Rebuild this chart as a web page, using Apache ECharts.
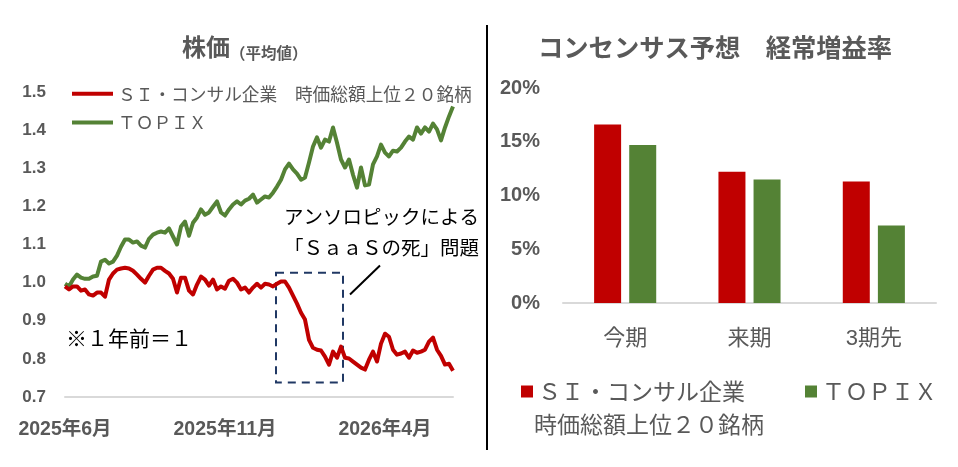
<!DOCTYPE html>
<html>
<head>
<meta charset="utf-8">
<title>株価とコンセンサス予想</title>
<script src="https://cdn.jsdelivr.net/npm/echarts@6/dist/echarts.min.js"></script>
<style>
  html, body { margin: 0; padding: 0; background: #fff; }
  #chartDiv { width: 958px; height: 467px; }
</style>
</head>
<body>
<div id="chartDiv"></div>
<script>
// 左：株価（平均値）　1年前＝1
var siName = 'ＳＩ・コンサル企業　時価総額上位２０銘柄';
var topixName = 'ＴＯＰＩＸ';
var xTickLabels = ['2025年6月', '2025年11月', '2026年4月'];
var siValues = [
  0.990, 0.982, 0.990, 0.990, 0.979, 0.982, 0.969, 0.966, 0.974, 0.974,
  0.963, 1.008, 1.024, 1.034, 1.037, 1.039, 1.037, 1.031, 1.021, 1.010,
  1.000, 1.018, 1.034, 1.039, 1.039, 1.031, 1.024, 1.010, 0.974, 1.013,
  1.013, 0.979, 0.969, 0.995, 1.016, 1.008, 0.992, 1.008, 0.982, 0.990,
  0.984, 1.005, 1.010, 1.000, 0.982, 0.987, 0.974, 0.987, 0.997, 0.987,
  0.997, 0.995, 0.990, 0.997, 1.003, 1.003, 0.987, 0.966, 0.945, 0.921,
  0.903, 0.850, 0.829, 0.824, 0.822, 0.806, 0.785, 0.819, 0.803, 0.832,
  0.803, 0.801, 0.793, 0.785, 0.777, 0.772, 0.798, 0.819, 0.793, 0.840,
  0.866, 0.858, 0.824, 0.811, 0.814, 0.819, 0.803, 0.822, 0.816, 0.819,
  0.824, 0.845, 0.856, 0.824, 0.808, 0.785, 0.787, 0.769
];
var topixValues = [
  0.997, 0.990, 1.008, 1.021, 1.013, 1.010, 1.010, 1.016, 1.018, 1.055,
  1.060, 1.050, 1.055, 1.071, 1.094, 1.113, 1.113, 1.105, 1.108, 1.097,
  1.092, 1.115, 1.126, 1.131, 1.134, 1.131, 1.142, 1.121, 1.100, 1.147,
  1.160, 1.123, 1.157, 1.171, 1.192, 1.178, 1.184, 1.199, 1.213, 1.184,
  1.176, 1.192, 1.205, 1.213, 1.205, 1.215, 1.220, 1.231, 1.210, 1.218,
  1.226, 1.223, 1.236, 1.252, 1.270, 1.297, 1.312, 1.297, 1.286, 1.270,
  1.276, 1.315, 1.357, 1.381, 1.354, 1.375, 1.370, 1.407, 1.367, 1.323,
  1.302, 1.323, 1.283, 1.249, 1.302, 1.255, 1.257, 1.310, 1.331, 1.362,
  1.341, 1.331, 1.346, 1.344, 1.354, 1.370, 1.383, 1.375, 1.407, 1.391,
  1.407, 1.396, 1.417, 1.402, 1.373, 1.407, 1.436, 1.462
];

// 右：コンセンサス予想　経常増益率（％）
var periods = ['今期', '来期', '3期先'];
var siGrowth = [16.6, 12.2, 11.3];
var topixGrowth = [14.7, 11.5, 7.2];

var red = '#C00000';
var green = '#548235';
var gray = '#595959';
var jp = "'Noto Sans CJK JP'";
var num = "'Liberation Sans', 'Noto Sans CJK JP'";

var chartDiv = echarts.init(document.getElementById('chartDiv'));

function pairs(arr) {
  return arr.map(function (v, i) { return [i, v]; });
}

var option = {
  animation: false,
  title: [
    {
      text: '{a|株価}{b|（平均値）}',
      left: 182, top: 33, padding: 0,
      textStyle: {
        rich: {
          a: { fontSize: 24, fontWeight: 'bold', color: gray, fontFamily: jp, lineHeight: 28 },
          b: { fontSize: 15.5, fontWeight: 'bold', color: gray, fontFamily: jp, lineHeight: 28, verticalAlign: 'bottom' }
        }
      }
    },
    {
      text: 'コンセンサス予想　経常増益率',
      left: 538, top: 33, padding: 0,
      textStyle: { fontSize: 25.3, fontWeight: 'bold', color: gray, fontFamily: jp, lineHeight: 28 }
    }
  ],
  legend: [
    {
      orient: 'vertical', left: 67, top: 80, itemGap: 11,
      itemWidth: 41, itemHeight: 4, icon: 'rect',
      data: [siName, topixName],
      textStyle: { fontSize: 17.7, color: gray, fontFamily: jp },
      selectedMode: false
    },
    {
      left: 516, top: 375, itemWidth: 12, itemHeight: 12, icon: 'rect',
      data: [siName],
      formatter: function (name) { return name.split('　')[0]; },
      textStyle: { fontSize: 23, color: gray, fontFamily: jp },
      selectedMode: false
    },
    {
      left: 800, top: 375, itemWidth: 12, itemHeight: 12, icon: 'rect',
      data: [topixName],
      textStyle: { fontSize: 23, color: gray, fontFamily: jp },
      selectedMode: false
    }
  ],
  grid: [
    { left: 65, right: 505, top: 92, bottom: 70 },
    { left: 563, right: 22, top: 88, bottom: 164 }
  ],
  xAxis: [
    {
      type: 'value', gridIndex: 0, min: 0, max: siValues.length - 1, interval: 40,
      axisLine: { show: true, lineStyle: { color: '#D9D9D9', width: 2 } },
      axisTick: { show: false },
      splitLine: { show: false },
      axisLabel: {
        margin: 23, fontSize: 19.5, fontWeight: 'bold', color: gray, fontFamily: num,
        showMaxLabel: false,
        formatter: function (v) {
          return v % 40 === 0 ? (xTickLabels[v / 40] || '') : '';
        }
      }
    },
    {
      type: 'category', gridIndex: 1, data: periods,
      axisLine: { show: true, lineStyle: { color: '#D9D9D9', width: 2 } },
      axisTick: { show: false },
      axisLabel: { margin: 25, fontSize: 22, color: gray, fontFamily: num }
    }
  ],
  yAxis: [
    {
      type: 'value', gridIndex: 0, min: 0.7, max: 1.5, interval: 0.1,
      axisLine: { show: false }, axisTick: { show: false }, splitLine: { show: false },
      axisLabel: {
        margin: 19, fontSize: 17, fontWeight: 'bold', color: gray, fontFamily: num,
        formatter: function (v) { return v.toFixed(1); }
      }
    },
    {
      type: 'value', gridIndex: 1, min: 0, max: 20, interval: 5,
      axisLine: { show: false }, axisTick: { show: false }, splitLine: { show: false },
      axisLabel: { margin: 23, fontSize: 20, fontWeight: 'bold', color: gray, fontFamily: num, formatter: '{value}%' }
    }
  ],
  series: [
    {
      name: siName, type: 'line', xAxisIndex: 0, yAxisIndex: 0,
      data: pairs(siValues), color: red, showSymbol: false, symbol: 'none',
      lineStyle: { width: 4, color: red, join: 'round' }, z: 3,
      // 「SaaSの死」の点線枠
      markArea: {
        silent: true,
        itemStyle: { color: 'rgba(0,0,0,0)', borderColor: '#203864', borderWidth: 2, borderType: [8, 6] },
        label: { show: false },
        data: [[{ xAxis: 52.75, yAxis: 1.026 }, { xAxis: 69.5, yAxis: 0.738 }]]
      },
      markLine: {
        silent: true, symbol: ['none', 'none'],
        lineStyle: { color: '#000', width: 2, type: 'solid' },
        label: { show: false },
        data: [[{ coord: [71.25, 0.969] }, { coord: [78.75, 1.045] }]]
      }
    },
    {
      name: topixName, type: 'line', xAxisIndex: 0, yAxisIndex: 0,
      data: pairs(topixValues), color: green, showSymbol: false, symbol: 'none',
      lineStyle: { width: 4, color: green, join: 'round' }, z: 2
    },
    {
      name: siName, type: 'bar', xAxisIndex: 1, yAxisIndex: 1,
      data: siGrowth, color: red, barWidth: 27, barGap: '30%'
    },
    {
      name: topixName, type: 'bar', xAxisIndex: 1, yAxisIndex: 1,
      data: topixGrowth, color: green, barWidth: 27, barGap: '30%'
    }
  ],
  graphic: [
    {
      type: 'line', shape: { x1: 487, y1: 25, x2: 487, y2: 450 },
      style: { stroke: '#000', lineWidth: 2 }
    },
    {
      type: 'text', x: 479, y: 217,
      style: { text: 'アンソロピックによる', font: '19.5px ' + jp, fill: '#000', align: 'right', verticalAlign: 'middle' }
    },
    {
      type: 'text', x: 479, y: 248,
      style: { text: '「ＳａａＳの死」問題', font: '19.5px ' + jp, fill: '#000', align: 'right', verticalAlign: 'middle' }
    },
    {
      type: 'text', x: 66, y: 338,
      style: { text: '※１年前＝１', font: '21px ' + jp, fill: '#000', align: 'left', verticalAlign: 'middle' }
    },
    {
      type: 'text', x: 534, y: 424,
      style: { text: '時価総額上位２０銘柄', font: '23px ' + jp, fill: gray, align: 'left', verticalAlign: 'middle' }
    }
  ]
};
chartDiv.setOption(option);
</script>
</body>
</html>
